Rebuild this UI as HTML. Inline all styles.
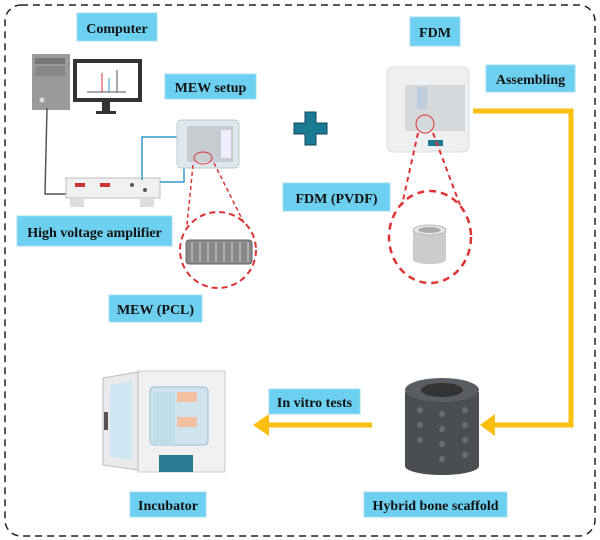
<!DOCTYPE html>
<html><head><meta charset="utf-8"><style>
body{margin:0;background:#fff;}
svg{display:block}
text{font-family:"Liberation Serif",serif;font-weight:bold;fill:#111;}
</style></head><body>
<svg width="600" height="540" viewBox="0 0 600 540" xmlns="http://www.w3.org/2000/svg">
<rect x="0" y="0" width="600" height="540" fill="#fff"/>
<rect x="5" y="5" width="590" height="531" rx="16" fill="none" stroke="#222" stroke-width="1.5" stroke-dasharray="7,5"/>

<!-- computer -->
<rect x="32" y="54" width="38" height="56" fill="#9a9a9a"/>
<rect x="35" y="58" width="30" height="6" fill="#777"/>
<rect x="35" y="66" width="30" height="10" fill="#888"/>
<circle cx="42" cy="100" r="2.5" fill="#ddd"/>
<rect x="73" y="59" width="69" height="43" fill="#333"/>
<rect x="77" y="63" width="61" height="35" fill="#fff"/>
<line x1="102" y1="73" x2="102" y2="92" stroke="#d33" stroke-width="1"/>
<line x1="109" y1="78" x2="109" y2="92" stroke="#39c" stroke-width="1"/>
<line x1="117" y1="70" x2="117" y2="92" stroke="#555" stroke-width="1"/>
<line x1="87" y1="92" x2="126" y2="92" stroke="#555"/>
<rect x="102" y="102" width="8" height="10" fill="#333"/>
<rect x="96" y="111" width="20" height="3" fill="#333"/>
<polyline points="47,108 45,194 66,194" fill="none" stroke="#555" stroke-width="1.5"/>

<!-- amplifier -->
<rect x="66" y="178" width="94" height="20" fill="#f0f0f0" stroke="#bbb"/>
<rect x="75" y="183" width="10" height="4" fill="#c33"/>
<rect x="100" y="183" width="10" height="4" fill="#c33"/>
<circle cx="132" cy="185" r="2" fill="#555"/><circle cx="145" cy="190" r="2" fill="#555"/>
<rect x="70" y="198" width="14" height="9" fill="#ddd"/><rect x="140" y="198" width="14" height="9" fill="#ddd"/>
<polyline points="142,180 142,137 178,137" fill="none" stroke="#39c" stroke-width="1.5"/>
<polyline points="160,182 184,182 184,165" fill="none" stroke="#39c" stroke-width="1.5"/>

<!-- MEW device -->
<rect x="177" y="120" width="62" height="48" rx="4" fill="#dfe7ee" stroke="#bcc"/>
<rect x="187" y="126" width="46" height="36" fill="#c7ccd1"/>
<rect x="221" y="130" width="10" height="28" fill="#eef"/>
<ellipse cx="203" cy="158" rx="9" ry="6" fill="none" stroke="#d33" stroke-width="1"/>
<line x1="193" y1="165" x2="187" y2="225" stroke="#d33" stroke-width="1.5" stroke-dasharray="4,3"/>
<line x1="214" y1="163" x2="245" y2="225" stroke="#d33" stroke-width="1.5" stroke-dasharray="4,3"/>
<circle cx="218" cy="250" r="38" fill="none" stroke="#d33" stroke-width="2" stroke-dasharray="6,4"/>
<rect x="186" y="240" width="66" height="24" rx="3" fill="#888" stroke="#666"/>
<g stroke="#bbb" stroke-width="1.5">
<line x1="192" y1="242" x2="192" y2="262"/><line x1="200" y1="242" x2="200" y2="262"/><line x1="208" y1="242" x2="208" y2="262"/><line x1="216" y1="242" x2="216" y2="262"/><line x1="224" y1="242" x2="224" y2="262"/><line x1="232" y1="242" x2="232" y2="262"/><line x1="240" y1="242" x2="240" y2="262"/><line x1="248" y1="242" x2="248" y2="262"/>
</g>

<!-- plus -->
<path d="M305,112 h11 v11 h11 v11 h-11 v11 h-11 v-11 h-11 v-11 h11 z" fill="#1a7a94" stroke="#145" stroke-width="1"/>

<!-- FDM printer -->
<rect x="387" y="67" width="82" height="85" rx="6" fill="#eeeff1" stroke="#ddd"/>
<rect x="405" y="85" width="60" height="46" fill="#d5d9dc"/>
<rect x="417" y="87" width="10" height="22" fill="#bcd"/>
<rect x="428" y="140" width="15" height="6" fill="#1a7a94"/>
<circle cx="425" cy="124" r="9" fill="none" stroke="#d33" stroke-width="1"/>
<line x1="418" y1="133" x2="402" y2="205" stroke="#d33" stroke-width="2" stroke-dasharray="5,4"/>
<line x1="433" y1="133" x2="460" y2="205" stroke="#d33" stroke-width="2" stroke-dasharray="5,4"/>
<ellipse cx="430" cy="237" rx="41" ry="46" fill="none" stroke="#d33" stroke-width="2.5" stroke-dasharray="7,5"/>
<rect x="413" y="230" width="33" height="30" fill="#ccc"/>
<ellipse cx="429.5" cy="260" rx="16.5" ry="4" fill="#ccc"/>
<ellipse cx="429.5" cy="230" rx="16.5" ry="5" fill="#e4e4e4" stroke="#bbb"/>
<ellipse cx="429.5" cy="230" rx="11" ry="3" fill="#aaa"/>

<!-- yellow connectors -->
<polyline points="473,111 571,111 571,425 492,425" fill="none" stroke="#fbbf10" stroke-width="5"/>
<polygon points="480,425 495,414 495,436" fill="#fbbf10"/>
<line x1="372" y1="425" x2="266" y2="425" stroke="#fbbf10" stroke-width="5"/>
<polygon points="253,425 269,414 269,436" fill="#fbbf10"/>

<!-- scaffold -->
<rect x="405" y="392" width="74" height="74" fill="#4a4d52"/>
<ellipse cx="442" cy="466" rx="37" ry="9" fill="#4a4d52"/>
<ellipse cx="442" cy="390" rx="37" ry="12" fill="#5a5d62"/>
<ellipse cx="442" cy="390" rx="21" ry="7" fill="#333"/>
<g fill="#6a6d72">
<circle cx="420" cy="410" r="3"/><circle cx="442" cy="414" r="3"/><circle cx="465" cy="410" r="3"/>
<circle cx="420" cy="425" r="3"/><circle cx="442" cy="429" r="3"/><circle cx="465" cy="425" r="3"/>
<circle cx="420" cy="440" r="3"/><circle cx="442" cy="444" r="3"/><circle cx="465" cy="440" r="3"/>
<circle cx="442" cy="459" r="3"/><circle cx="465" cy="455" r="3"/>
</g>

<!-- incubator -->
<rect x="138" y="371" width="87" height="101" fill="#f0f1f3" stroke="#ccc"/>
<rect x="150" y="387" width="58" height="58" rx="4" fill="#cfe4ee" stroke="#9bc"/>
<rect x="153" y="392" width="22" height="53" fill="#bfdce8"/>
<rect x="177" y="392" width="20" height="10" fill="#f0c0a0"/>
<rect x="177" y="417" width="20" height="10" fill="#f0c0a0"/>
<rect x="159" y="455" width="34" height="17" fill="#2a7a94"/>
<polygon points="103,378 138,372 138,470 103,465" fill="#e8eaec" stroke="#bbb"/>
<polygon points="110,385 132,381 132,460 110,457" fill="#cde8f2"/>
<rect x="104" y="412" width="4" height="18" fill="#555"/>

<!-- labels -->
<g fill="#6dd0f0" stroke="#9fdcf0">
<rect x="77" y="13" width="80" height="28"/>
<rect x="165" y="74" width="91" height="25"/>
<rect x="17" y="216" width="155" height="30"/>
<rect x="109" y="295" width="93" height="27"/>
<rect x="410" y="17" width="50" height="29"/>
<rect x="486" y="65" width="89" height="27"/>
<rect x="283" y="183" width="107" height="28"/>
<rect x="269" y="389" width="91" height="25"/>
<rect x="130" y="492" width="76" height="25"/>
<rect x="364" y="492" width="143" height="25"/>
</g>
<g font-size="14" text-anchor="middle">
<text x="117" y="33">Computer</text>
<text x="210.5" y="92">MEW setup</text>
<text x="94.5" y="237">High voltage amplifier</text>
<text x="155.5" y="314">MEW (PCL)</text>
<text x="435" y="37">FDM</text>
<text x="530.5" y="84">Assembling</text>
<text x="336.5" y="203">FDM (PVDF)</text>
<text x="314.5" y="407">In vitro tests</text>
<text x="168" y="510">Incubator</text>
<text x="435.5" y="510">Hybrid bone scaffold</text>
</g>
</svg>
</body></html>
